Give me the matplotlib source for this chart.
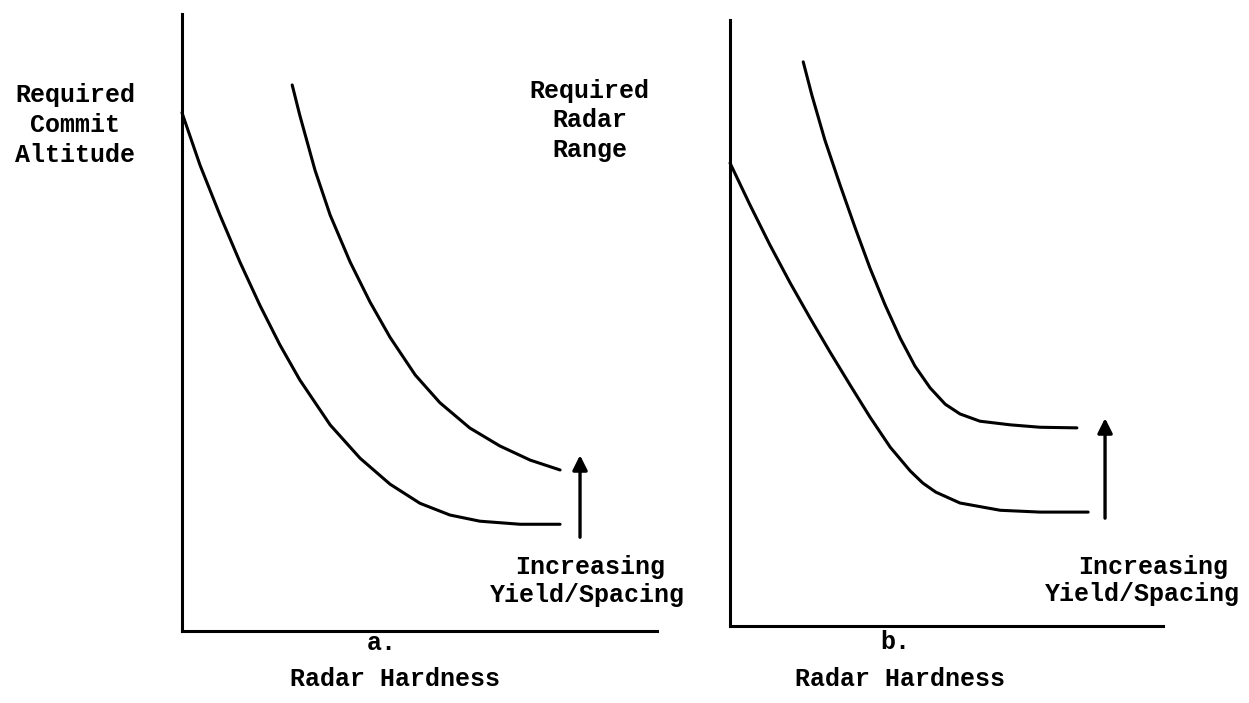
import matplotlib
matplotlib.use('Agg')
import matplotlib.pyplot as plt

plt.rcParams['font.family'] = ['Liberation Mono', 'DejaVu Sans Mono']

# panel a: commit altitude vs radar hardness (relative units, 0-100)
a_low_x = [0, 3.8, 8.0, 12.2, 16.4, 20.6, 24.8, 31.2, 37.5, 43.8, 50.1, 56.4, 62.7, 71.2, 79.6]
a_low_y = [84.0, 75.5, 67.4, 59.8, 52.8, 46.4, 40.7, 33.4, 28.0, 23.8, 20.7, 18.8, 17.8, 17.3, 17.3]
a_high_x = [23.2, 24.8, 28.0, 31.2, 35.4, 39.6, 43.8, 49.1, 54.3, 60.6, 66.9, 73.3, 79.6]
a_high_y = [88.5, 83.6, 74.7, 67.4, 59.8, 53.3, 47.6, 41.5, 37.0, 32.9, 30.0, 27.7, 26.1]
a_arrow = (83.8, 15.2, 28.5)   # x, from y, to y

# panel b: radar range vs radar hardness
b_low_x = [0, 4.6, 9.2, 13.9, 18.5, 23.1, 27.7, 32.3, 37.0, 41.6, 44.5, 47.5, 53.1, 62.4, 71.6, 82.7]
b_low_y = [76.4, 69.5, 62.9, 56.6, 50.8, 45.2, 39.8, 34.5, 29.5, 25.6, 23.6, 22.1, 20.3, 19.1, 18.8, 18.8]
b_high_x = [16.9, 18.9, 21.9, 25.4, 28.9, 32.3, 35.8, 39.3, 42.7, 46.2, 49.7, 53.1, 57.7, 64.7, 71.6, 80.1]
b_high_y = [93.1, 87.6, 80.2, 72.8, 65.7, 59.1, 53.0, 47.5, 42.9, 39.3, 36.6, 35.0, 33.8, 33.2, 32.8, 32.7]
b_arrow = (86.6, 17.8, 34.3)

fig = plt.figure(figsize=(12.49, 7.03), dpi=100)
ax_a = fig.add_axes([0.1457, 0.1024, 0.3803, 0.8777])
ax_b = fig.add_axes([0.5845, 0.1095, 0.3467, 0.8620])

panels = [
    (ax_a, a_low_x, a_low_y, a_high_x, a_high_y, a_arrow),
    (ax_b, b_low_x, b_low_y, b_high_x, b_high_y, b_arrow),
]
for ax, lx, ly, hx, hy, arr in panels:
    ax.plot(lx, ly, color='black', lw=2.2, clip_on=False,
            solid_capstyle='round', solid_joinstyle='round')
    ax.plot(hx, hy, color='black', lw=2.2, clip_on=False,
            solid_capstyle='round', solid_joinstyle='round')
    ax.annotate('', xy=(arr[0], arr[2]), xytext=(arr[0], arr[1]),
                arrowprops=dict(arrowstyle='-|>', color='black', lw=2.4,
                                mutation_scale=22, shrinkA=0, shrinkB=0),
                annotation_clip=False)
    ax.set_xlim(0, 100)
    ax.set_ylim(0, 100)
    ax.set_xticks([])
    ax.set_yticks([])
    for s in ['top', 'right']:
        ax.spines[s].set_visible(False)
    for s in ['left', 'bottom']:
        ax.spines[s].set_linewidth(2.2)
    ax.patch.set_alpha(0)

fs = 18
kw = dict(fontsize=fs, fontweight='bold', ha='center', va='center')

fig.text(0.060, 0.822, 'Required\nCommit\nAltitude', multialignment='center', linespacing=1.3, **kw)
fig.text(0.472, 0.829, 'Required\nRadar\nRange', multialignment='center', linespacing=1.3, **kw)

fig.text(0.4724, 1 - 567 / 703, 'Increasing', **kw)
fig.text(0.4700, 1 - 595 / 703, 'Yield/Spacing', **kw)
fig.text(0.9231, 1 - 567 / 703, 'Increasing', **kw)
fig.text(0.9143, 1 - 594 / 703, 'Yield/Spacing', **kw)

fig.text(0.306, 1 - 643 / 703, 'a.', **kw)
fig.text(0.316, 1 - 679 / 703, 'Radar Hardness', **kw)
fig.text(0.717, 1 - 642 / 703, 'b.', **kw)
fig.text(0.7206, 1 - 679 / 703, 'Radar Hardness', **kw)

fig.savefig('out.png', dpi=100, facecolor='white')
